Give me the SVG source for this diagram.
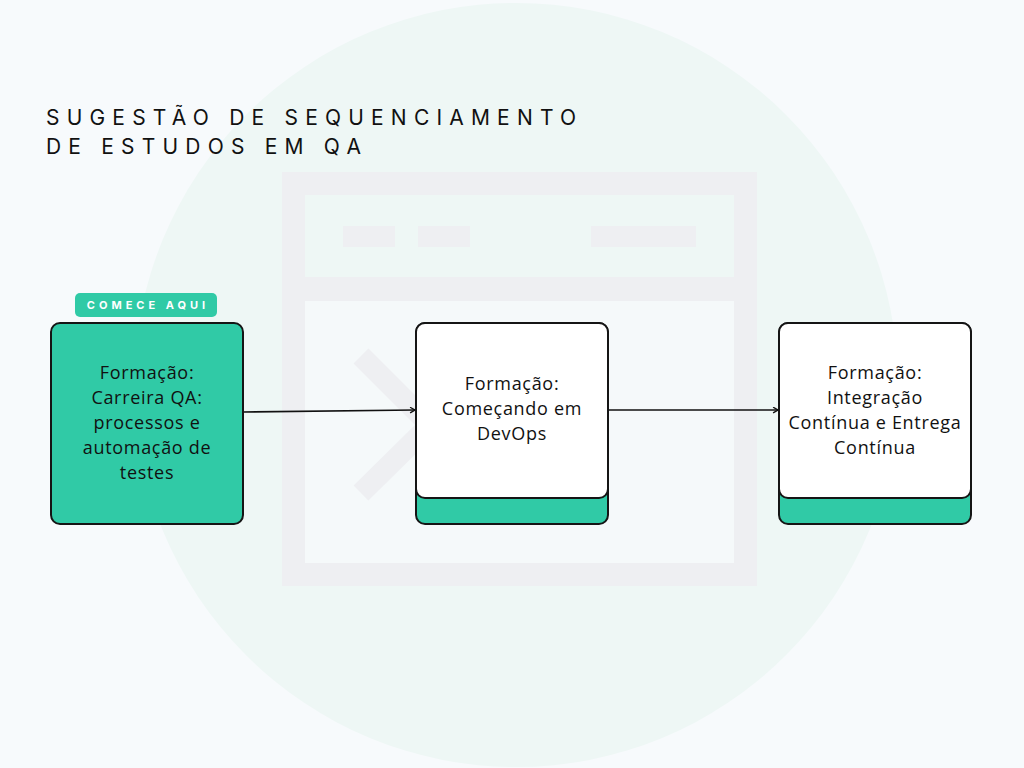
<svg xmlns="http://www.w3.org/2000/svg" width="1024" height="768" viewBox="0 0 1024 768">
<defs>
<style>
.title{font-family:Inter,"Liberation Sans",sans-serif;font-size:21px;letter-spacing:7.2px;fill:#111;}
.lbl{font-family:"Open Sans","Liberation Sans",sans-serif;font-size:18px;letter-spacing:0.7px;fill:#111;text-anchor:middle;}
.tag{font-family:Inter,"Liberation Sans",sans-serif;font-size:11px;font-weight:700;letter-spacing:4px;fill:#fff;text-anchor:middle;}
.box{stroke:#151515;stroke-width:2;}
.green{fill:#30caa6;}
.white{fill:#ffffff;}
.wf{fill:#eeeff2;}
.conn{stroke:#111;stroke-width:1.6;fill:none;marker-end:url(#arr);}
</style>
<marker id="arr" viewBox="0 0 10 10" refX="9" refY="5" markerWidth="7" markerHeight="7" orient="auto" markerUnits="userSpaceOnUse">
<path d="M2,1 L9,5 L2,9" fill="none" stroke="#111" stroke-width="2"/>
</marker>
</defs>
<rect width="1024" height="768" fill="#f7fafc"/>
<circle cx="516" cy="385" r="382" fill="#eef7f5"/>
<g id="wireframe">
<rect class="wf" x="282" y="172" width="475" height="414"/>
<rect x="305" y="195" width="429" height="82" fill="#eef7f5"/>
<rect x="305" y="301" width="429" height="262" fill="#f5f9fa"/>
<rect class="wf" x="343" y="226" width="52" height="21"/>
<rect class="wf" x="418" y="226" width="52" height="21"/>
<rect class="wf" x="591" y="226" width="105" height="21"/>
<polyline points="361,356 430,425 361,493" fill="none" stroke="#eeeff2" stroke-width="21"/>
</g>
<g id="title">
<text class="title" x="46" y="125">SUGESTÃO DE SEQUENCIAMENTO</text>
<text class="title" x="46" y="154">DE ESTUDOS EM QA</text>
</g>
<g id="connectors">
<line class="conn" x1="243" y1="412" x2="415" y2="410"/>
<line class="conn" x1="608" y1="410" x2="778" y2="410"/>
</g>
<g id="tag-comece">
<rect class="green" x="75" y="293" width="142" height="24" rx="5"/>
<text class="tag" x="148" y="309">COMECE AQUI</text>
</g>
<g id="node1">
<rect class="box green" x="51" y="323" width="192" height="201" rx="9"/>
<text class="lbl" x="147" y="379">Formação:</text>
<text class="lbl" x="147" y="404">Carreira QA:</text>
<text class="lbl" x="147" y="429">processos e</text>
<text class="lbl" x="147" y="454">automação de</text>
<text class="lbl" x="147" y="479">testes</text>
</g>
<g id="node2">
<rect class="box green" x="416" y="323" width="192" height="201" rx="9"/>
<rect class="box white" x="416" y="323" width="192" height="175" rx="9"/>
<text class="lbl" x="512" y="390">Formação:</text>
<text class="lbl" x="512" y="415">Começando em</text>
<text class="lbl" x="512" y="440">DevOps</text>
</g>
<g id="node3">
<rect class="box green" x="779" y="323" width="192" height="201" rx="9"/>
<rect class="box white" x="779" y="323" width="192" height="175" rx="9"/>
<text class="lbl" x="875" y="379">Formação:</text>
<text class="lbl" x="875" y="404">Integração</text>
<text class="lbl" x="875" y="429">Contínua e Entrega</text>
<text class="lbl" x="875" y="454">Contínua</text>
</g>
</svg>
